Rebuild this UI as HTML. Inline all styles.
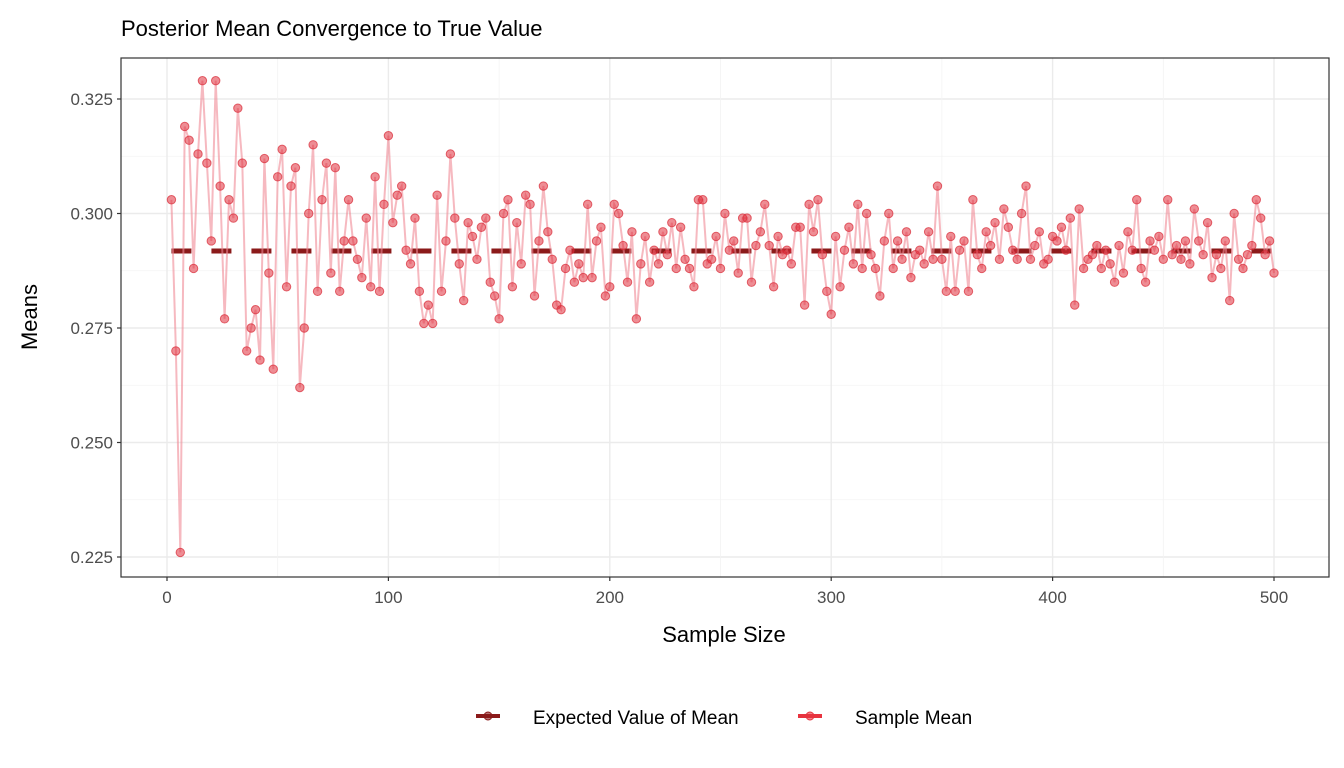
<!DOCTYPE html>
<html><head><meta charset="utf-8"><style>
body{margin:0;background:#fff;}
svg{display:block;font-family:"Liberation Sans",Arial,sans-serif;}
</style></head><body>
<svg id="chart" width="1344" height="768"></svg>
<script>
const xStart = 2, xStep = 2;
const sampleMeans = [
0.303,0.270,0.226,0.319,0.316,0.288,0.313,0.329,0.311,0.294,
0.329,0.306,0.277,0.303,0.299,0.323,0.311,0.270,0.275,0.279,
0.268,0.312,0.287,0.266,0.308,0.314,0.284,0.306,0.310,0.262,
0.275,0.300,0.315,0.283,0.303,0.311,0.287,0.310,0.283,0.294,
0.303,0.294,0.290,0.286,0.299,0.284,0.308,0.283,0.302,0.317,
0.298,0.304,0.306,0.292,0.289,0.299,0.283,0.276,0.280,0.276,
0.304,0.283,0.294,0.313,0.299,0.289,0.281,0.298,0.295,0.290,
0.297,0.299,0.285,0.282,0.277,0.300,0.303,0.284,0.298,0.289,
0.304,0.302,0.282,0.294,0.306,0.296,0.290,0.280,0.279,0.288,
0.292,0.285,0.289,0.286,0.302,0.286,0.294,0.297,0.282,0.284,
0.302,0.300,0.293,0.285,0.296,0.277,0.289,0.295,0.285,0.292,
0.289,0.296,0.291,0.298,0.288,0.297,0.290,0.288,0.284,0.303,
0.303,0.289,0.290,0.295,0.288,0.300,0.292,0.294,0.287,0.299,
0.299,0.285,0.293,0.296,0.302,0.293,0.284,0.295,0.291,0.292,
0.289,0.297,0.297,0.280,0.302,0.296,0.303,0.291,0.283,0.278,
0.295,0.284,0.292,0.297,0.289,0.302,0.288,0.300,0.291,0.288,
0.282,0.294,0.300,0.288,0.294,0.290,0.296,0.286,0.291,0.292,
0.289,0.296,0.290,0.306,0.290,0.283,0.295,0.283,0.292,0.294,
0.283,0.303,0.291,0.288,0.296,0.293,0.298,0.290,0.301,0.297,
0.292,0.290,0.300,0.306,0.290,0.293,0.296,0.289,0.290,0.295,
0.294,0.297,0.292,0.299,0.280,0.301,0.288,0.290,0.291,0.293,
0.288,0.292,0.289,0.285,0.293,0.287,0.296,0.292,0.303,0.288,
0.285,0.294,0.292,0.295,0.290,0.303,0.291,0.293,0.290,0.294,
0.289,0.301,0.294,0.291,0.298,0.286,0.291,0.288,0.294,0.281,
0.300,0.290,0.288,0.291,0.293,0.303,0.299,0.291,0.294,0.287
];
const expectedMean = 0.2918;
const xTicks = [0,100,200,300,400,500];
const yTicks = [0.225,0.250,0.275,0.300,0.325];

const NS="http://www.w3.org/2000/svg";
const svg=document.getElementById('chart');
function mk(tag,attrs,parent){const e=document.createElementNS(NS,tag);for(const k in attrs)e.setAttribute(k,attrs[k]);(parent||svg).appendChild(e);return e;}
const P={l:121,r:1329,t:58,b:577};
const xs=v=>167+(v-0)*(1274-167)/500;
const ys=v=>557-(v-0.225)*(557-99)/0.1;

const grid=mk('g',{});


for(let i=0;i<yTicks.length;i++){
  mk('line',{x1:P.l,x2:P.r,y1:ys(yTicks[i]),y2:ys(yTicks[i]),stroke:'#ebebeb','stroke-width':1.4},grid);
  if(i<yTicks.length-1){const m=(yTicks[i]+yTicks[i+1])/2;mk('line',{x1:P.l,x2:P.r,y1:ys(m),y2:ys(m),stroke:'#f3f3f3','stroke-width':0.8},grid);}
}
for(let i=0;i<xTicks.length;i++){
  mk('line',{y1:P.t,y2:P.b,x1:xs(xTicks[i]),x2:xs(xTicks[i]),stroke:'#ebebeb','stroke-width':1.4},grid);
  if(i<xTicks.length-1){const m=(xTicks[i]+xTicks[i+1])/2;mk('line',{y1:P.t,y2:P.b,x1:xs(m),x2:xs(m),stroke:'#f3f3f3','stroke-width':0.8},grid);}
}

const ev=mk('line',{x1:xs(xStart),x2:xs(500),y1:ys(expectedMean),y2:ys(expectedMean),stroke:'#8b1a1a','stroke-width':5,'stroke-dasharray':'20 20'});



let d='';
sampleMeans.forEach((v,i)=>{d+=(i?'L':'M')+xs(xStart+i*xStep).toFixed(1)+','+ys(v).toFixed(1);});
const sl=mk('path',{d:d,fill:'none',stroke:'#f08a96','stroke-opacity':0.6,'stroke-width':2});


const pts=mk('g',{});


sampleMeans.forEach((v,i)=>{
  const c=mk('circle',{cx:xs(xStart+i*xStep),cy:ys(v),r:4.2,fill:'#e0303c','fill-opacity':0.55,stroke:'#d82a36','stroke-opacity':0.7,'stroke-width':1},pts);
  
  
});

const pb=mk('rect',{x:P.l,y:P.t,width:P.r-P.l,height:P.b-P.t,fill:'none',stroke:'#333','stroke-width':1.2});



yTicks.forEach(t=>{
  mk('line',{x1:P.l-4,x2:P.l,y1:ys(t),y2:ys(t),stroke:'#333','stroke-width':1.2});
  const tx=mk('text',{x:P.l-8,y:ys(t)+6,'text-anchor':'end','font-size':17,fill:'#4d4d4d'});
  tx.textContent=t.toFixed(3);
  
  
});
xTicks.forEach(t=>{
  mk('line',{x1:xs(t),x2:xs(t),y1:P.b,y2:P.b+4,stroke:'#333','stroke-width':1.2});
  const tx=mk('text',{x:xs(t),y:P.b+26,'text-anchor':'middle','font-size':17,fill:'#4d4d4d'});
  tx.textContent=t;
  
  
});
</script>
<div style="position:absolute;left:0;top:0;width:1344px;height:768px;pointer-events:none;">
<svg width="1344" height="768" style="position:absolute;left:0;top:0" font-family="Liberation Sans, Arial, sans-serif">
<text x="121" y="36" font-size="22" fill="#000">Posterior Mean Convergence to True Value</text>
<text x="724" y="642" font-size="22" text-anchor="middle" fill="#000">Sample Size</text>
<text transform="translate(37,317) rotate(-90)" font-size="22" text-anchor="middle" fill="#000">Means</text>
<g>
<g>
<line x1="476" x2="500" y1="716" y2="716" stroke="#8b1a1a" stroke-width="4"/>
<circle cx="488" cy="716" r="4" fill="#8b1a1a" fill-opacity="0.6" stroke="#8b1a1a"/>
<text x="533" y="724" font-size="19" fill="#000">Expected Value of Mean</text>
</g>
<g>
<line x1="798" x2="822" y1="716" y2="716" stroke="#e8333f" stroke-width="4"/>
<circle cx="810" cy="716" r="4" fill="#e8333f" fill-opacity="0.6" stroke="#e8333f"/>
<text x="855" y="724" font-size="19" fill="#000">Sample Mean</text>
</g>
</g>
</svg>
</div>
</body></html>
